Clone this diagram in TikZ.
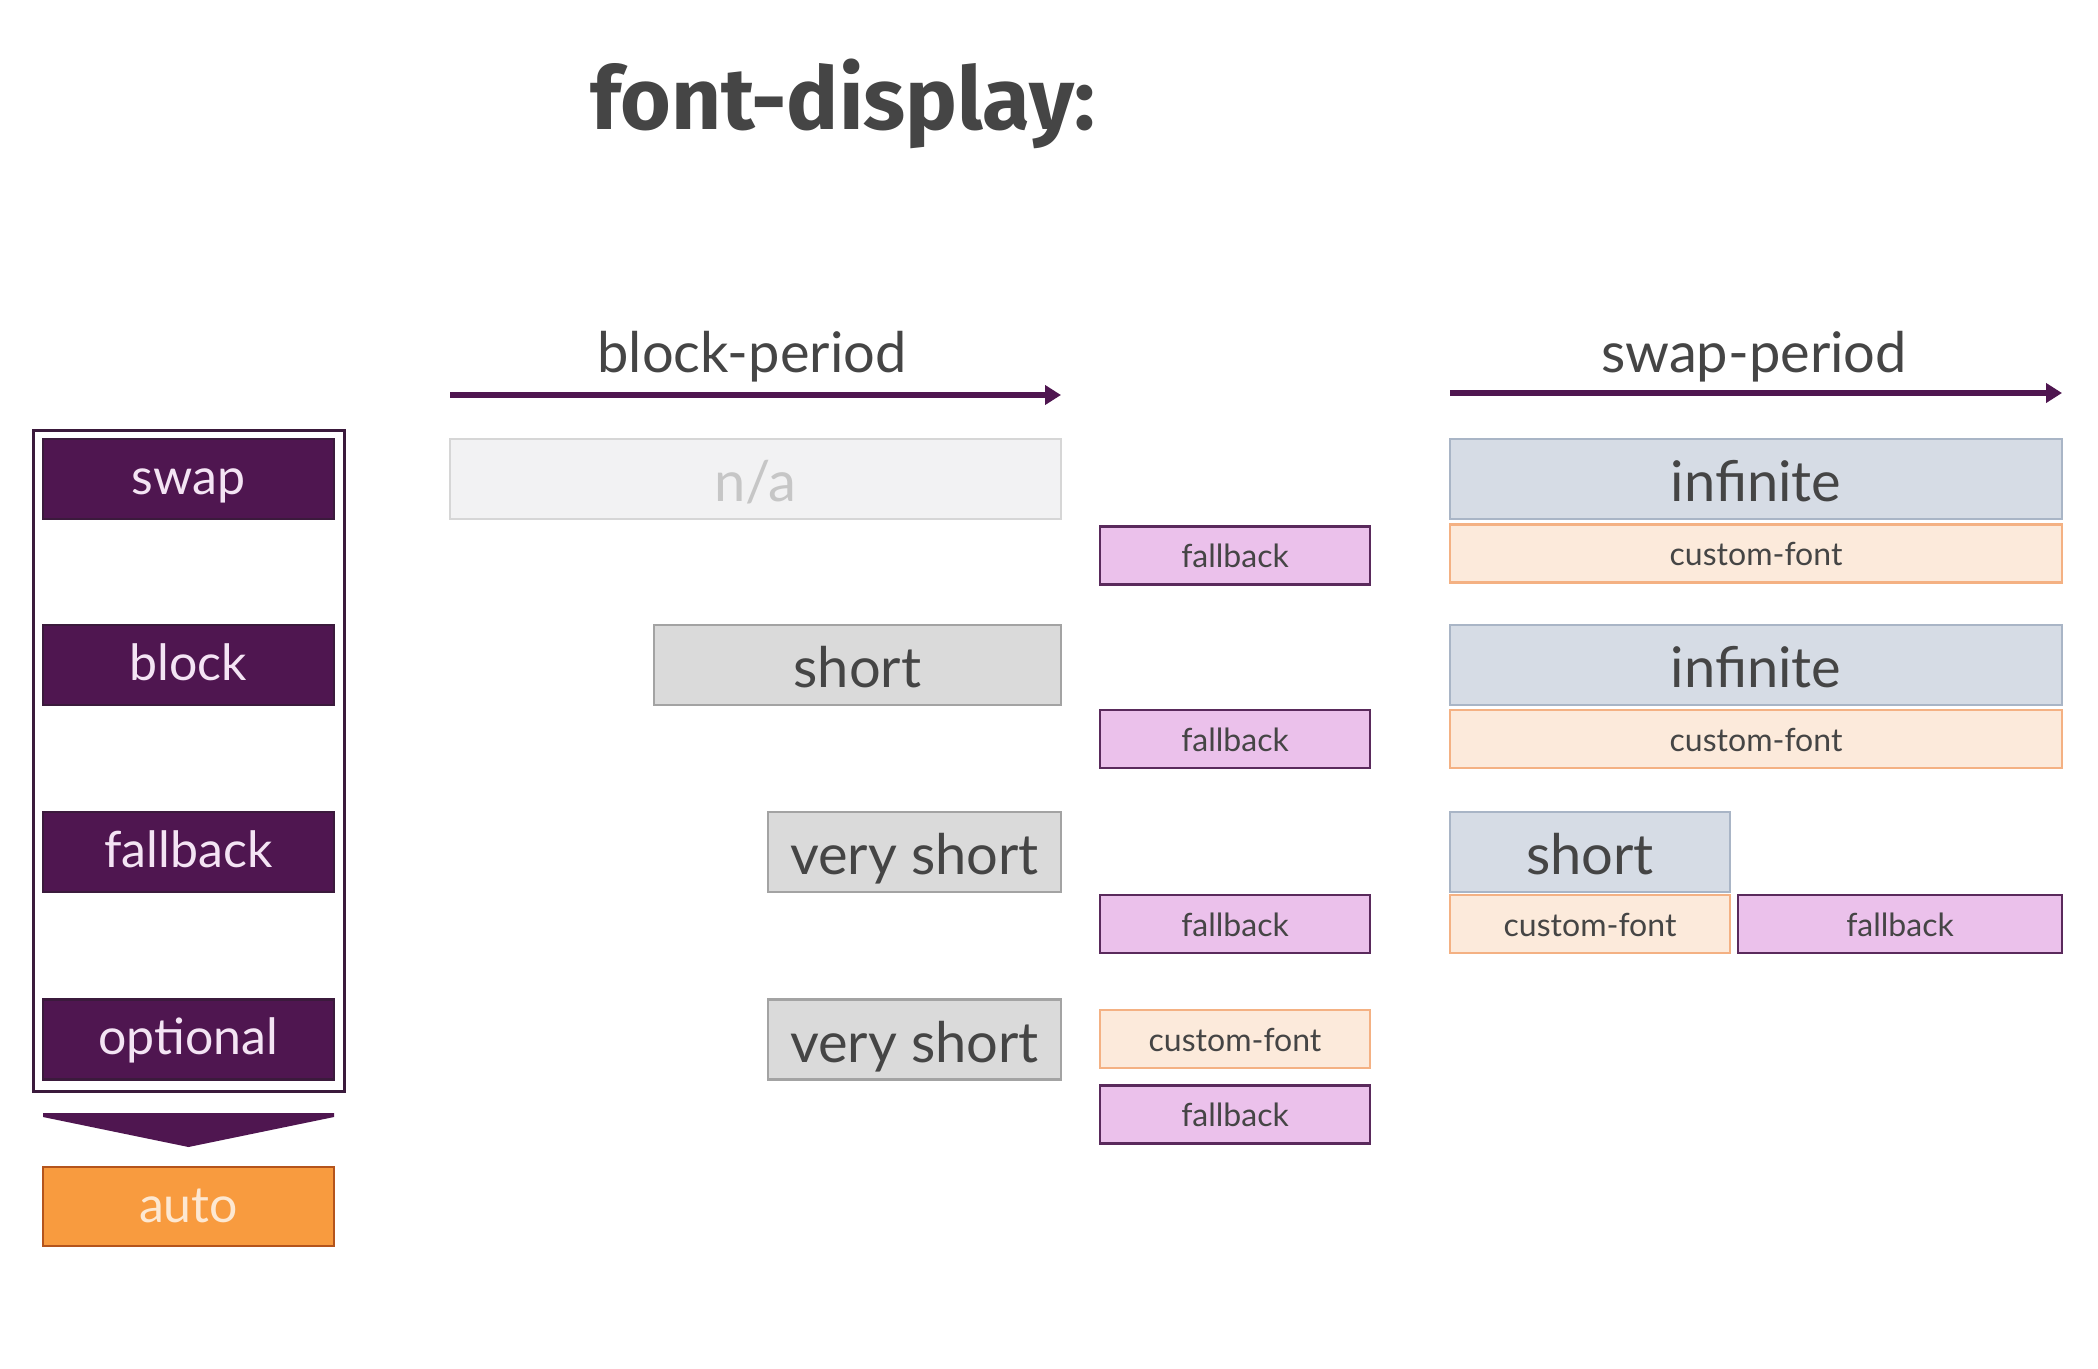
\documentclass[tikz,border=0pt]{standalone}
\usepackage{fontspec}
\setmainfont{Lato}
\newfontfamily\titlefont{Fira Sans}
\usetikzlibrary{arrows.meta}
\definecolor{plum}{HTML}{4F1650}
\definecolor{plumline}{HTML}{3B1A3C}
\definecolor{plumtext}{HTML}{F4E4F4}
\definecolor{inktext}{HTML}{454545}
\definecolor{nafill}{HTML}{F2F2F3}
\definecolor{naline}{HTML}{D6D6D6}
\definecolor{natext}{HTML}{C6C6C6}
\definecolor{greyfill}{HTML}{DADADA}
\definecolor{greyline}{HTML}{A3A3A3}
\definecolor{bluefill}{HTML}{D6DCE5}
\definecolor{blueline}{HTML}{A9B5C6}
\definecolor{peachfill}{HTML}{FCEADB}
\definecolor{peachline}{HTML}{F4B183}
\definecolor{pinkfill}{HTML}{EBC1EB}
\definecolor{pinkline}{HTML}{5A2A5C}
\definecolor{autofill}{HTML}{F89B3F}
\definecolor{autoline}{HTML}{B4541C}
\definecolor{autotext}{HTML}{FDE8D2}
\tikzset{
  % the baseline sits at half the text height below the box centre
  valuebox/.style={draw=plumline, fill=plum, line width=2.5pt, text=plumtext,
    minimum width=291pt, minimum height=80pt, inner sep=0pt,
    text height=30pt, text depth=0pt, font=\fontsize{50}{60}\selectfont},
  bigbox/.style={line width=2.5pt, minimum height=80pt, inner sep=0pt, text=inktext,
    text height=45pt, text depth=0pt, font=\fontsize{56}{66}\selectfont},
  nabox/.style={bigbox, draw=naline, fill=nafill, text=natext},
  greybox/.style={bigbox, draw=greyline, fill=greyfill},
  bluebox/.style={bigbox, draw=blueline, fill=bluefill},
  smallbox/.style={line width=2.5pt, minimum height=58pt, inner sep=0pt, text=inktext,
    text height=24pt, text depth=0pt, font=\fontsize{32}{38}\selectfont},
  fontbox/.style={smallbox, draw=peachline, fill=peachfill},
  fbbox/.style={smallbox, draw=pinkline, fill=pinkfill},
  period/.style={text=inktext, anchor=base, font=\fontsize{56}{66}\selectfont},
  timeline/.style={draw=plum, line width=5.5pt, -{Triangle[length=16pt, width=19pt]}}
}
\begin{document}
\begin{tikzpicture}[x=1pt, y=-1pt]
\fill[white] (0,0) rectangle (2098,1368);
\useasboundingbox (0,0) rectangle (2098,1368);

% title
\node[text=inktext, font=\titlefont\bfseries\fontsize{87}{96}\selectfont] (title) at (843,104) {font-display:};

% left column: values and default
\node[draw=plumline, fill=white, line width=3pt, minimum width=311pt, minimum height=661pt, inner sep=0pt] (frame) at (188.5,760.5) {};
\node[valuebox] (vswap) at (188.5,479) {swap};
\node[valuebox] (vblock) at (188.5,665) {block};
\node[valuebox] (vfallback) at (188.5,852) {fallback};
\node[valuebox] (voptional) at (188.5,1039.5) {optional};
\fill[plum] (43,1113) -- (334,1113) -- (334,1117) -- (188.5,1147) -- (43,1117) -- cycle;
\node[valuebox, draw=autoline, fill=autofill, text=autotext, minimum height=79pt, text height=31pt] (vauto) at (188.5,1206.5) {auto};

% period headings and timelines
\node[period] (blocklabel) at (752,372) {block-period};
\coordinate (bstart) at (450,395);
\coordinate (bend) at (1061,395);
\draw[timeline] (bstart) -- (bend);
\node[period] (swaplabel) at (1754,372) {swap-period};
\coordinate (sstart) at (1450,393);
\coordinate (send) at (2062,393);
\draw[timeline] (sstart) -- (send);

% block-period lengths
\node[nabox, minimum width=611pt] (bswap) at (755.5,479) {n/a};
\node[greybox, minimum width=407pt] (bblock) at (857.5,665) {short};
\node[greybox, minimum width=293pt] (bfallback) at (914.5,852) {very short};
\node[greybox, minimum width=293pt] (boptional) at (914.5,1039.5) {very short};

% rendered fonts at the end of the block period
\node[fbbox, minimum width=270pt] (f1) at (1235,555.5) {fallback};
\node[fbbox, minimum width=270pt] (f2) at (1235,739) {fallback};
\node[fbbox, minimum width=270pt] (f3) at (1235,924) {fallback};
\node[fontbox, minimum width=270pt] (c4) at (1235,1039) {custom-font};
\node[fbbox, minimum width=270pt] (f4) at (1235,1114.5) {fallback};

% swap-period lengths
\node[bluebox, minimum width=612pt] (sswap) at (1756,479) {infinite};
\node[fontbox, minimum width=612pt] (cswap) at (1756,553.5) {custom-font};
\node[bluebox, minimum width=612pt] (sblock) at (1756,665) {infinite};
\node[fontbox, minimum width=612pt] (cblock) at (1756,739) {custom-font};
\node[bluebox, minimum width=280pt] (sfallback) at (1590,852) {short};
\node[fontbox, minimum width=280pt] (cfallback) at (1590,924) {custom-font};
\node[fbbox, minimum width=324pt] (ffallback) at (1900,924) {fallback};
\end{tikzpicture}
\end{document}
